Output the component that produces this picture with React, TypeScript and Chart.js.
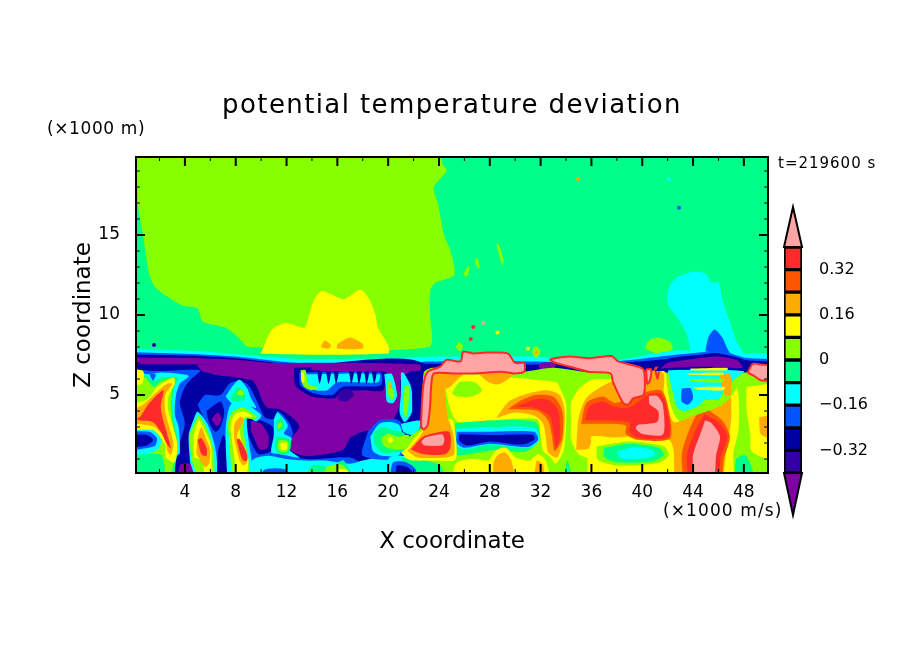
import { useEffect, useRef } from "react";
import { Chart, registerables } from "chart.js";

Chart.register(...registerables);

const FONT = "'DejaVu Sans', sans-serif";

// a..l, low to high
const levelKeys = "abcdefghijkl";
const levelColors = ["#7f00a5", "#3300a5", "#0000a5", "#0055ff", "#00ffff", "#00ff88", "#88ff00", "#ffff00", "#ffaa00", "#ff5500", "#ff2a2a", "#ffa5a5"];

const xRange = [0.15, 49.9];
const zRange = [0.125, 19.875];

// contour regions: level letter, then x,z outline. Painted in list order.
const upperShapes = [
  "f -2,-2 52,-2 52,22 -2,22",
  "g 0.2,21 0.3,17 0.7,15 1.2,12.5 1.7,11.7 2.9,11 3.8,10.6 5,10.4 5.4,9.6 7.2,9.2 8.2,8.6 9,8 23.2,8 23.3,10 23.3,11.5 23.7,12 25.2,12.5 24.9,14 24.4,15 23.9,17 23.6,18 24.6,19 24.3,19.4 23.6,21",
  "h 10.2,8 10.5,8.6 11,9.2 12,9.5 13.4,9.2 13.7,9.8 14.2,11 14.8,11.5 16.5,11 17.8,11.6 18.5,11 19,10 19.2,9.2 20,8.1 20,7.6 10,7.6",
  "i 14.7,8 15,8.4 15.5,8.1 15.3,7.9",
  "i 16,8.2 17,8.6 18,8.2 18,7.9 16,7.9",
  "g 25.9,12.5 26.3,13.1 26.4,12.9 26.2,12.4",
  "g 26.8,13.3 27,13.6 27.2,13 27.1,12.9",
  "g 28.5,14.4 28.7,14.4 29.1,13.4 29,13.1",
  "g 40.2,7.9 40.5,8.4 41.3,8.6 42.2,8.3 42.4,7.9 41.5,7.5",
  "e 43.9,7.4 43.5,8.8 42.8,9.8 42,10.7 42.1,11.7 42.8,12.4 44,12.7 45,12.6 45.5,12 46,12.1 46.3,11 46.8,9.8 47.4,8.4 48,7.4",
  "d 44.9,7.4 45.2,8.6 45.7,9.1 46.3,8.6 46.7,7.9 47,7.4",
];

const bandShapes = [
  "e -1,7.9 5,7.75 8,7.56 13,7.25 20,7.3 24,7.4 31.5,7.4 33,7.3 38,7.2 41,7.6 43,7.8 47.6,7.6 51,7.45 51,6 -1,6",
  "d -1,7.7 5,7.55 8,7.4 13,7 22,7 23,7.1 31.5,7.1 35,7 38,7.1 42,7.45 45,7.7 46,7.85 48,7.35 51,7.1 51,6 -1,6",
  "c -1,7.55 5,7.45 8,7.3 13,6.9 23,6.95 31.5,6.9 38,7 42,7.25 45,7.55 46,7.6 48,7.2 51,6.9 51,6 -1,6",
  "a -1,7.35 5,7.3 8,7.2 13,6.85 23,6.85 23,6.3 -1,6.3",
  "a 31.8,6.9 32.5,7.05 33.2,6.95 33,6.6 32,6.6",
];

const leftShapes = [
  "c -1,-1 23,-1 23,6.85 13,6.85 8,6.9 1,6.9 -1,6.9",
  "a 5.3,6.5 6.5,6.25 8,6.1 9.3,5.9 9.8,5.3 10,4.8 10.5,4.2 11.5,4.1 12.6,3.5 13,3 12.4,2.3 12.2,1.6 13.4,1.2 15,1.3 16.5,1.6 17,2.3 18,2.7 19.5,2.9 20,3.1 20.5,3.6 21,4.6 21,6 22.5,6.9 5,6.9",
  "d 5,4.4 5.6,5 6.8,5 7.5,5.7 8.3,5.9 9,5.6 9.5,4.9 9.9,4.2 10.3,3.6 11,3.5 11.3,4 12.1,3.4 12.5,2.6 12.1,1.5 13.5,1 17,1.1 18,0.6 9,0.6 8,0.3 6.5,0.3 6.4,1.2 6,2.5 5.5,3.5",
  "d -1,6.75 1.5,6.5 5.2,6.55 4.5,6 4,5.5 3.6,4.5 4,3.2 3.4,1.5 3,-1 -1,-1",
  "e -1,6.7 1,6.3 2.2,6.4 4.3,6.2 3.6,5.7 3.3,5 3.2,3.8 3.5,3 3.6,1.5 3.2,-1 -1,-1",
  "f -1,6.7 1,6.2 1.5,5.9 2.2,6.1 3.5,6.1 3.2,5.6 3,4.6 3.1,3.5 3.4,2.3 3.4,1.3 3.1,-1 -1,-1",
  "g -1,6.6 0.9,6.1 1.2,5.8 1.6,5.5 2.2,5.9 3.2,6.05 3,5.5 2.9,4.4 3,3.4 3.3,2.2 3.3,1.3 3,0.4 2.7,-1 -1,-1",
  "f -1,-1 2.3,-1 2.2,1.2 1,1.35 -1,1.3",
  "d 1.2,6.3 1.7,6.3 1.5,5.9",
  "h -1,6.6 0.7,6.5 0.6,5.7 -1,5.6",
  "i -1,6.3 0.3,6.2 -1,5.9",
  "e -1,2.9 1.4,2.9 2.1,2.3 2,1.7 1.4,1.4 -1,1.3",
  "d -1,2.7 1.2,2.7 1.8,2.3 1.6,1.8 -1,1.6",
  "c -1,2.5 1,2.5 1.5,2.2 1,1.85 -1,1.75",
  "h -1,4.4 1,4.7 1.8,5.5 3.1,6.1 3.2,5.7 2.7,4.9 2.7,4 3.4,2 3.2,0.8 2.5,1.1 2.4,1.95 1.5,2.8 -1,2.9",
  "i -1,3.75 0.7,4.4 1.8,5.2 2.6,5.7 3,5.7 2.45,5 2.45,3.95 3.1,2 2.9,1.25 2.6,1.55 2.5,2.2 1.6,3 -1,3.35",
  "k 0.15,3.5 0.5,3.65 1.2,4.5 2.3,5.3 2.1,4.3 2.3,3.4 2.9,1.67 2.6,1.9 2.1,2.7 1.5,3.3 0.5,3.4",
  "c 3.1,-1 3.4,1.2 4.2,1.4 4.5,0.9 5.5,0.9 5.5,-1",
  "a 3.4,-1 3.6,0.6 4.4,0.7 5.2,0.4 5.4,-1",
  "e 4.4,0.8 4.3,2.5 4.7,3.5 5,3.95 5.7,3.3 6.2,2.3 6.5,1.1 6.5,-1 5.3,-1",
  "g 4.5,1 4.4,2.5 4.8,3.3 5.1,3.7 5.6,3.1 6,2.3 6.3,1.2 6.2,-1 5.5,-1",
  "h 4.7,1.1 4.7,2.4 5.1,3.4 5.6,2.7 6,2 6.1,1.2 6,-1 5.6,-1 5.4,0.9",
  "i 4.9,1.3 5,2.3 5.3,3 5.7,2.2 6,1.6 5.9,0.7 5.6,0.5",
  "k 5,2.2 5.3,2.3 5.7,1.7 5.7,1.2 5.3,1.3",
  "c 6.5,-1 6.6,1.4 7,2.5 7.2,2.3 7.6,1 8,-1",
  "c 8.9,3.6 10,3.4 10.9,3 11,2.2 10.8,1.5 9.8,1.3 9.3,1.9 8.9,2.8",
  "a 9.2,3.4 10,3.2 10.3,2.9 10.6,2.4 10.5,1.7 9.9,1.6 9.5,2.2 9.2,2.8",
  "e 7.4,-1 7.2,2.8 7.6,4.4 8.6,4.5 10,3.75 9.6,3.35 8.9,3.65 9,2.2 9.3,0.5 9,-1",
  "g 7.8,-1 7.5,2 7.4,3.3 7.8,4 8.6,4.2 9.7,3.6 9.3,3.5 8.7,3.5 8.6,2.8 8.9,1.4 9.1,-1",
  "h 8,0.5 7.7,2.2 7.6,3.2 8,3.85 8.7,3.95 9.3,3.65 8.7,3.6 8.3,3 8.5,2 9,1 8.9,0.2 8.4,-1",
  "i 8.3,0.9 7.9,2.2 7.9,3.2 8.4,3.65 8.6,3.4 8.1,2.5 8.2,2.2 8.7,1.4 8.9,0.8 8.6,0.6",
  "k 8.4,1.2 8.1,2.2 8.3,2.25 8.9,1.3 8.9,0.9 8.6,0.9",
  "e 7.2,4.9 7.7,5.5 8.3,5.95 8.9,5.4 9.2,4.8 9.6,4.2 8.6,4.4 7.8,4.4",
  "f 7.7,5 8.2,5.5 8.7,5.1 8.7,4.7 8,4.6 7.6,4.7",
  "g 8,5.1 8.4,5.35 8.7,5.1 8.4,4.95",
  "c 5.7,4 6.8,4.6 7.1,3.9 6.8,3 6.4,2.7 5.9,3.3",
  "a 6.1,3.5 6.6,3.9 6.9,3.5 6.5,3.05",
  "e 9,-1 9.3,0.9 10.5,1.2 12,1 13.5,0.9 15,0.9 17,0.7 18,0.9 20,1.3 21,1.3 21.5,-1",
  "d 10,-1 10.2,0.3 12,0.3 12.2,-1",
  "f 13,-1 14,0.6 15.5,0.5 16.5,0.9 17.5,-1",
  "g 14.5,-1 15.2,0.5 16.5,0.6 17.2,-1",
  "h 15.5,-1 16,0.3 16.8,0.3 17,-1",
  "e 11,3.5 11.3,3.9 12.1,3.1 11.8,2.6 12.4,2.3 12.2,1.6 13,1.1 11.5,1.3 10.8,1.4 11,2.5",
  "f 11.2,3.4 11.6,3.6 11.8,2.9 11.3,2.7",
  "g 11.3,3.2 11.6,3.3 11.6,3 11.3,2.9",
  "f 11.2,2.4 12.3,2.2 12.2,1.4 11.5,1.3 11.1,1.7",
  "g 11.4,2.2 12.1,2.1 12.1,1.5 11.6,1.4 11.3,1.7",
  "h 11.5,2 12,2 12,1.6 11.6,1.6",
  "c 12.6,6.7 12.7,5.6 14,4.9 15.8,4.8 16.3,5.2 18,5.3 19.6,5.3 19.7,6.7",
  "d 13,6.4 13.1,5.6 14.2,5.1 15.6,5 16.4,5.5 19.4,5.6 19.4,6.4",
  "e 13.2,6.3 13.4,5.7 14.3,5.3 15.2,5.3 16,5.8 19.2,5.8 19.3,6.3",
  "g 13.1,6.55 13.5,6.55 13.7,5.7 14.5,5.5 14.8,5.6 14,5.3 13.3,5.6",
  "h 13.15,6.4 13.35,6.4 13.4,5.8 13.2,5.8",
  "c 14.4,6.55 14.8,6.55 14.6,5.7",
  "c 15.1,6.55 15.5,6.55 15.3,5.7",
  "c 15.7,6.55 16.1,6.55 15.9,5.7",
  "c 16.9,6.55 17.3,6.55 17.1,5.7",
  "c 17.5,6.55 17.9,6.55 17.7,5.7",
  "c 18.1,6.55 18.5,6.55 18.3,5.7",
  "c 18.7,6.55 19.1,6.55 18.9,5.7",
  "a 14,6.85 22.5,6.85 22.5,6.5 14,6.55",
  "b 16.1,5.2 16.9,5.4 17.3,5 16.7,4.6 16.1,4.7",
  "e 19.7,6.3 20.3,6.3 20.7,5 20.4,4.5 19.9,4.6 19.8,5.5",
  "g 20,5.9 20.3,5.5 20.5,5 20.3,4.7 20,5",
  "i 20.1,5.8 20.2,5.8 20.3,5.4 20.1,5.4",
  "e 21,6.4 21.2,6.4 21.8,5.5 21.9,4 21.3,3.3 20.9,3.9 21,5",
  "g 21.3,5.6 21.6,5.6 21.6,4.4 21.4,3.6 21.2,4",
  "c 21.9,5.9 22.5,6 22.4,3.2 22,3.2 21.9,4.5",
  "d 18.4,2.7 19.3,3.4 20.4,3.5 21,3.3 21,1.1 18,1.2",
  "e 18.6,2.4 19.3,3.2 20.3,3.3 20.9,3.1 21.1,2.5 21,1.5 20.8,1.2 19.5,1.2 18.8,1.5",
  "f 18.9,2.7 19.6,3 20.4,2.8 21.3,2.6 21.5,1.6 20.4,1.4 19.5,1.4 18.9,2",
  "g 19.4,2.3 20,2.6 20.7,2.4 21.6,2.5 21.8,1.7 20.6,1.6 19.7,1.8",
  "h 19.9,2.3 20.2,2.4 20.4,2.15 20.1,2",
  "e 21,3.2 22.5,3.4 22.5,2.9 21.9,2.5 21.2,2.7",
  "e 20,-1 20.1,1.1 22.4,0.9 23,-1",
];

const rightShapes = [
  "g 21.4,-1 21.3,1 21.4,2.2 22.6,3 22.8,6.4 23.5,6.7 30,6.4 33,6.7 36,6.4 42,6.4 48,6.4 52,6.6 52,-1",
  "f 21,1.1 23,0.9 24.2,0.5 24.4,-1 22,-1",
  "d 20.2,0.3 20.4,0.8 21.4,0.8 22.2,0.3 22,-1 20.3,-1",
  "c 20.6,0.15 20.7,0.6 21.5,0.5 21.9,0.15 21.5,-1 20.8,-1",
  "h 24.4,6.4 33.2,5.8 33.6,5.3 34,4.5 34,3 33.8,1.5 33.2,0.7 32.8,1.1 32.2,1.5 32,2.4 31.7,3.5 25.6,3.3 25.1,3.7 24.6,5",
  "g 25,5.1 25.6,5.8 26.8,5.8 27.4,5.3 26.6,4.9 25.4,4.9",
  "i 27,6.4 27.9,5.8 28.6,5.65 29.3,5.9 30,6.4",
  "i 24,6.4 26,6.4 25.5,6 24.6,5.4",
  "i 28.5,3.55 29.5,4.6 31,5.1 32.5,5.3 33.5,5 33.9,4 33.8,2.3 33.3,1.1 32.6,1.4 32.4,2.4 32.2,3.2 31.5,3.7 30,3.9",
  "j 29.4,4.1 30.3,4.6 31.6,5 33,4.9 33.7,4 33.7,2.3 33.1,1.5 32.9,2.4 32.6,3.4 31.8,4 30.5,4.1",
  "k 30,4.25 31.7,4.75 32.6,4.7 33.4,4 33.5,2.2 33.2,1.7 33,2.8 32.7,3.7 31.5,4.2",
  "f 25.3,3.23 28,3.4 31.6,3.3 31.9,2.2 30.8,1.46 28.5,1.56 25.3,1.25 25.1,2",
  "e 25.4,2.9 28,3 31.5,2.95 31.9,2.2 31.2,1.7 28,1.9 26,1.6 25.3,1.9",
  "d 25.4,2.7 28,2.7 31.5,2.7 31.8,2.2 31,1.75 28,1.95 26,1.7 25.4,2",
  "c 25.6,2.55 28.5,2.5 31.4,2.5 31.5,2.2 30.5,1.9 28,2.1 26.2,1.85 25.6,2.15",
  "h 25,-1 25.3,0.7 26.5,1 27.9,0.9 28,1 28.6,1.6 29.3,1.7 30,1.1 31,0.9 31.2,0.9 31.8,1.3 32.4,0.9 32.7,-1",
  "i 28.3,-1 28.3,0.8 28.7,1.3 29.2,1.4 29.7,0.9 30,-1",
  "i 31.4,-1 31.7,0.9 32.2,0.6 32.3,-1",
  "f 33.8,-1 34.1,0.9 34.6,-1",
  "e 34,-1 34.1,0.5 34.4,-1",
  "h 35,5.4 36,5.95 37.8,6 41.7,6.5 42,5.4 42.8,4 43,3.3 47.3,5.5 47.6,3 47.2,1.5 46.8,-1 36.2,-1 36,0.9 35,1.3 34.4,2.2 34.4,3.4 34.4,4.5",
  "i 34.8,1.56 35,3.6 35.7,4.9 37.8,5.9 41.6,6.4 41.7,5 42.5,3.3 44,3.8 45.5,4.3 46.3,5 46.9,5.5 47,3.5 46.6,1.5 46,-1 42.6,-1 42,1.2 41.5,2 38,2.3 36,2.4 36,1.7",
  "h 36.1,2.2 39.2,2.4 42.1,2.2 42.5,1.35 42.1,-1 36.1,-1 35.7,1.35",
  "g 36.4,1.8 39,2.1 41.7,1.8 42.1,1.25 41.3,0.75 38,0.6 36.5,0.95",
  "f 37,1.7 39,1.95 41.3,1.7 41.7,1.25 40.8,0.85 38,0.8 37,1.15",
  "e 38,1.45 39.3,1.73 40.8,1.56 41,1.25 40.3,1.04 38.3,1.04",
  "j 35.2,3.2 35.6,4.5 36.9,4.9 37.9,4.5 40.3,5.2 41.5,5.3 42,4.4 42.2,2.3 39.6,2.2 38.7,2.6 38.7,3.1 36.6,3.2",
  "k 35.5,3.44 35.85,4.3 36.9,4.6 37.7,4.3 38.9,4.2 40.45,5 41.4,5.1 41.9,4.3 42.1,2.4 39.8,2.3 39,2.7 39,3.3 36.6,3.44",
  "l 40.45,5 41.2,5 41.7,4.4 41.7,2.5 40,2.5 39.4,2.9 39.65,3.2 41.1,3.35 41.2,3.95 40.5,4.4",
  "j 44.95,4.2 46.3,3.4 46.9,2.4 46.4,0.9 46.1,-1 43.6,-1 43.1,1.15 43.5,2.4 44.2,3.65",
  "k 44.9,3.8 46,3.3 46.7,2.4 46.2,1.15 45.8,-1 44,-1 43.5,1.15 44.2,2.8",
  "l 44.9,3.5 45.5,3.3 46.2,2.4 45.9,1.25 45.6,-1 44.3,-1 43.9,1.15 44.6,2.8",
  "g 42.2,6.5 47.5,6.4 47.4,5.4 46.5,4.5 45.5,4.1 44,3.7 42.9,3.4 42.3,4.2 42,5.5",
  "e 42,6.6 48,6.5 47.3,6 46.5,5.4 46,4.7 45,4.7 44.4,4.3 43.2,4 42.7,4.3 42.4,5.2",
  "d 43.1,5.4 43.8,5.4 44,4.8 43.6,4.4 43.1,4.6",
  "i 46.1,6.2 46.9,6.3 47,5 46.5,5",
  "f 47.3,-1 47.4,1 48.2,1.2 49,-1",
  "h 48.2,5.5 52,5.6 52,1 49.9,1 48.6,1.5 48.5,2.5 48.2,4.2",
  "i 49.2,3.6 52,4 52,2 49.4,2.5",
  "h 21,1.4 21.5,1.7 22.4,2.6 23.3,3 25,3.5 25.3,2.5 25.4,1.3 25.2,0.9 23.7,0.9 22,0.9 21.5,1",
  "i 21.5,1.5 22.5,2.4 22.9,3 23.2,4.2 23.4,6 23.7,6.5 24.5,6.3 24.5,5 24.7,3.6 25.1,2.6 25.2,1.3 24.6,1.1 22.3,1.1",
  "k 21.8,1.6 22.6,2.3 23.6,2.6 24.8,2.7 24.9,1.7 24.5,1.3 22.8,1.3",
  "l 22.5,2.1 22.9,2.4 24.3,2.6 24.5,2.2 24.3,1.8 22.8,1.8",
  "l 22.6,3 22.6,3.4 22.75,5.5 23.1,6.45 24.1,6.77 24.6,7.2 25.7,7.1 25.9,7.7 26.7,7.6 27.8,7.65 29.4,7.6 30,7 30.7,7 30.7,6.45 29.9,6.35 28.9,6.45 26.7,6.35 25.1,6.35 23.6,6.35 23.4,5.7 23.3,4.3 23.1,3.1 22.8,2.85",
  "l 32.7,7.2 33.1,7.3 34.3,7.4 35.9,7.3 37.6,7.44 38.1,7.1 40,6.67 40.2,6.15 40.1,5 39.3,4.8 38.9,4.4 38.5,4.5 37.7,5.8 37.5,6.35 35.8,6.45 34.3,6.77 33.2,7",
  "l 48.3,6.4 48.7,6.95 49.4,6.9 52,6.7 52,6 49.4,5.9 48.8,6.2",
  "i 40.6,6.5 41.5,6.5 41.4,5.7 40.8,5.4",
  "l 40.3,6.6 40.7,6.6 40.6,5.9 40.4,5.7",
  "l 41,6.7 41.3,6.7 41.2,6",
  "g 31.3,7.7 31.6,8.1 32,7.7 31.6,7.3",
  "i 31.5,7.65 31.7,7.8 31.8,7.6 31.6,7.5",
  "g 25.3,7.95 25.5,8.3 25.9,8.1 25.7,7.75",
  "c 41,6.5 42,7.25 45,7.55 46,7.6 48,7.2 48.3,6.55 46,6.7 43.5,6.6",
  "a 41.4,6.65 42,7 44,7.25 46,7.4 47.5,7.15 47.9,6.7 46,6.75 43.5,6.75",
  "h 43.8,6.65 46.7,6.7 46.7,6.55 43.8,6.55",
  "h 43.5,6.35 46.3,6.4 46.4,6.25 43.7,6.27",
  "g 43.6,6 46.4,6 46.3,5.8 44,5.85",
  "h 44,5.5 46.5,5.5 46.4,5.3 44.3,5.35",
];

// isolated small blobs
const speckX = [1.57, 34.95, 42.1, 42.9, 27.5, 26.7, 26.5, 28.6, 31];
const speckZ = [8.125, 18.5, 18.5, 16.7, 9.5, 9.25, 8.5, 8.9, 7.9];
const speckLevel = ["b", "i", "e", "d", "l", "k", "k", "h", "h"];

const colorbarEdges = [-0.4, -0.32, -0.24, -0.16, -0.08, 0, 0.08, 0.16, 0.24, 0.32, 0.4];
const colorbarTicks = [-0.32, -0.16, 0, 0.16, 0.32];
const colorbarTips = [-0.5487, 0.5416];

const chartTitle = "potential temperature deviation";
const xTitle = "X coordinate";
const zTitle = "Z coordinate";
const zUnit = "(×1000 m)";
const xUnit = "(×1000 m/s)";
const timeLabel = "t=219600 s";

function buildDatasets() {
  const datasets: any[] = [];
  [...upperShapes, ...bandShapes, ...leftShapes, ...rightShapes].forEach((shape) => {
    const parts = shape.split(" ");
    const level = parts[0];
    const data = parts.slice(1).map((p) => {
      const [x, y] = p.split(",").map(Number);
      return { x, y };
    });
    data.push(data[0]);
    const pink = level === "l";
    datasets.push({
      data,
      showLine: true,
      fill: "shape",
      tension: 0.25,
      pointRadius: 0,
      backgroundColor: levelColors[levelKeys.indexOf(level)],
      borderColor: pink ? levelColors[10] : "transparent",
      borderWidth: pink ? 2 : 0,
    });
  });
  speckX.forEach((x, i) => {
    datasets.push({
      data: [{ x, y: speckZ[i] }],
      pointRadius: 2,
      pointBorderWidth: 0,
      pointBackgroundColor: levelColors[levelKeys.indexOf(speckLevel[i])],
    });
  });
  // chart.js paints the first dataset last
  return datasets.reverse();
}

function drawText(ctx: CanvasRenderingContext2D, text: string, x: number, y: number, size: number, spacing: number, align: CanvasTextAlign = "left") {
  ctx.font = `${size}px ${FONT}`;
  (ctx as any).letterSpacing = `${spacing}px`;
  ctx.textAlign = align;
  ctx.textBaseline = "alphabetic";
  ctx.fillStyle = "#000";
  ctx.fillText(text, x, y);
}

const framePlugin = {
  id: "frame",
  afterDraw(chart: any) {
    const { ctx, chartArea: a, scales } = chart;
    ctx.save();
    ctx.strokeStyle = "#000";
    ctx.lineWidth = 2;
    ctx.strokeRect(a.left, a.top, a.right - a.left, a.bottom - a.top);
    scales.x.ticks.forEach((t: any) => {
      const px = scales.x.getPixelForValue(t.value);
      const major = t.value % 4 === 0;
      ctx.lineWidth = major ? 2 : 1;
      const len = major ? 9 : 4;
      ctx.beginPath();
      ctx.moveTo(px, a.bottom);
      ctx.lineTo(px, a.bottom - len);
      ctx.moveTo(px, a.top);
      ctx.lineTo(px, a.top + len);
      ctx.stroke();
    });
    scales.y.ticks.forEach((t: any) => {
      const py = scales.y.getPixelForValue(t.value);
      const major = t.value % 5 === 0;
      ctx.lineWidth = major ? 2 : 1;
      const len = major ? 9 : 4;
      ctx.beginPath();
      ctx.moveTo(a.left, py);
      ctx.lineTo(a.left + len, py);
      ctx.moveTo(a.right, py);
      ctx.lineTo(a.right - len, py);
      ctx.stroke();
    });
    drawText(ctx, chartTitle, 452, 113, 26, 1.4, "center");
    drawText(ctx, zUnit, 47, 134, 17, 0.6);
    drawText(ctx, xUnit, 663, 516, 17, 1.1);
    drawText(ctx, timeLabel, 778, 168, 15, 1);
    ctx.restore();
  },
};

const tipsPlugin = {
  id: "tips",
  afterDraw(chart: any) {
    const { ctx, chartArea: a, scales } = chart;
    const mid = (a.left + a.right) / 2;
    const ends = [
      { tip: colorbarTips[1], base: colorbarEdges[colorbarEdges.length - 1], color: levelColors[11] },
      { tip: colorbarTips[0], base: colorbarEdges[0], color: levelColors[0] },
    ];
    ctx.save();
    ctx.strokeStyle = "#000";
    ctx.lineWidth = 2;
    ends.forEach((e) => {
      ctx.fillStyle = e.color;
      ctx.beginPath();
      ctx.moveTo(a.left, scales.y.getPixelForValue(e.base));
      ctx.lineTo(mid, scales.y.getPixelForValue(e.tip));
      ctx.lineTo(a.right, scales.y.getPixelForValue(e.base));
      ctx.closePath();
      ctx.fill();
      ctx.stroke();
    });
    ctx.restore();
  },
};

export default function App() {
  const mapRef = useRef<HTMLCanvasElement>(null);
  const barRef = useRef<HTMLCanvasElement>(null);

  useEffect(() => {
    const map = new Chart(mapRef.current!, {
      type: "scatter",
      data: { datasets: buildDatasets() },
      plugins: [framePlugin],
      options: {
        animation: false,
        responsive: false,
        layout: { padding: { left: 70, right: 136, top: 157, bottom: 98 } },
        plugins: { legend: { display: false }, tooltip: { enabled: false } },
        scales: {
          x: {
            type: "linear",
            min: xRange[0],
            max: xRange[1],
            afterFit: (s: any) => { s.height = 83; },
            grid: { display: false },
            border: { display: false },
            ticks: {
              stepSize: 2,
              includeBounds: false,
              autoSkip: false,
              maxRotation: 0,
              padding: 1,
              color: "#000",
              font: { family: FONT, size: 17 },
              callback: (v: any) => (v % 4 === 0 ? String(v) : ""),
            },
            title: { display: true, text: xTitle, color: "#000", font: { family: FONT, size: 23 }, padding: 0 },
          },
          y: {
            type: "linear",
            min: zRange[0],
            max: zRange[1],
            afterFit: (s: any) => { s.width = 66; },
            grid: { display: false },
            border: { display: false },
            ticks: {
              stepSize: 1,
              includeBounds: false,
              autoSkip: false,
              padding: 8,
              color: "#000",
              font: { family: FONT, size: 17 },
              callback: (v: any) => (v % 5 === 0 ? String(v) : ""),
            },
            title: { display: true, text: zTitle, color: "#000", font: { family: FONT, size: 23 }, padding: 0 },
          },
        },
      },
    } as any);

    const bar = new Chart(barRef.current!, {
      type: "bar",
      data: {
        labels: [""],
        datasets: colorbarEdges.slice(0, -1).map((lo, i) => ({
          data: [[lo, colorbarEdges[i + 1]]],
          backgroundColor: levelColors[i + 1],
          borderColor: "#000",
          borderWidth: 2,
          borderSkipped: false,
          barPercentage: 1,
          categoryPercentage: 1,
          grouped: false,
        })),
      },
      plugins: [tipsPlugin],
      options: {
        animation: false,
        responsive: false,
        layout: { padding: { left: 784, right: 12, top: 207, bottom: 139 } },
        plugins: { legend: { display: false }, tooltip: { enabled: false } },
        scales: {
          x: { display: false },
          y: {
            position: "right",
            min: colorbarTips[0],
            max: colorbarTips[1],
            afterFit: (s: any) => { s.width = 90; },
            afterBuildTicks: (s: any) => { s.ticks = colorbarTicks.map((value) => ({ value })); },
            grid: { display: false },
            border: { display: false },
            ticks: {
              padding: 9,
              color: "#000",
              font: { family: FONT, size: 16 },
              callback: (v: any) => String(v).replace("-", "\u2212"),
            },
          },
        },
      },
    } as any);

    return () => {
      map.destroy();
      bar.destroy();
    };
  }, []);

  return (
    <div style={{ position: "absolute", left: 0, top: 0, width: 904, height: 654, background: "#fff" }}>
      <canvas ref={mapRef} width={904} height={654} style={{ position: "absolute", left: 0, top: 0 }} />
      <canvas ref={barRef} width={904} height={654} style={{ position: "absolute", left: 0, top: 0 }} />
    </div>
  );
}
